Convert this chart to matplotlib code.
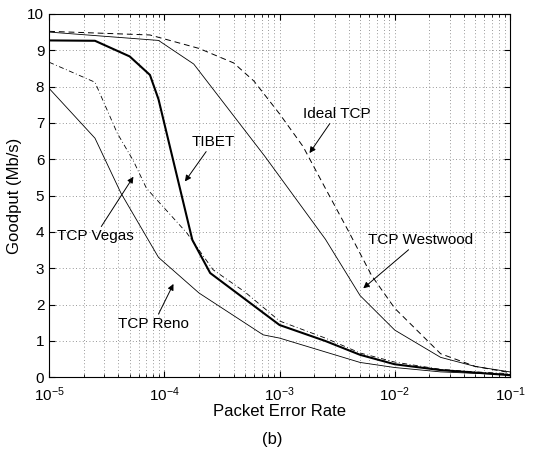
import numpy as np
import matplotlib
matplotlib.use("Agg")
import matplotlib.pyplot as plt
from matplotlib.ticker import LogLocator, NullFormatter

plt.rcParams['font.family'] = ['Liberation Sans', 'DejaVu Sans']
plt.rcParams['mathtext.default'] = 'regular'

# datos
ideal_x = [1e-5, 7.5e-5, 2e-4, 4e-4, 6e-4, 1e-3, 1.6e-3, 2.5e-3, 4e-3, 6.3e-3, 1e-2, 2.5e-2, 5e-2, 1e-1]
ideal_y = [9.52, 9.42, 9.05, 8.65, 8.15, 7.25, 6.35, 5.2, 4.0, 2.8, 1.9, 0.65, 0.3, 0.13]

westwood_x = [1e-5, 8.9e-5, 1.8e-4, 7.5e-4, 2.5e-3, 5e-3, 1e-2, 2.5e-2, 5e-2, 1e-1]
westwood_y = [9.5, 9.27, 8.62, 6.07, 3.8, 2.25, 1.3, 0.55, 0.3, 0.15]

tibet_x = [1e-5, 2.5e-5, 5e-5, 7.5e-5, 8.9e-5, 1.75e-4, 2.5e-4, 1e-3, 2.5e-3, 5e-3, 1e-2, 2.5e-2, 5e-2, 1e-1]
tibet_y = [9.27, 9.26, 8.83, 8.32, 7.65, 3.78, 2.87, 1.44, 1.0, 0.62, 0.36, 0.2, 0.13, 0.06]

vegas_x = [1e-5, 2.5e-5, 3.9e-5, 5.4e-5, 7e-5, 1.57e-4, 2.65e-4, 5e-4, 1e-3, 2.5e-3, 5e-3, 1e-2, 2.5e-2, 5e-2, 1e-1]
vegas_y = [8.67, 8.12, 6.72, 5.95, 5.2, 3.97, 2.96, 2.35, 1.55, 1.08, 0.67, 0.42, 0.22, 0.15, 0.1]

reno_x = [1e-5, 2.5e-5, 4.2e-5, 8.9e-5, 2e-4, 7.2e-4, 1e-3, 5e-3, 1e-2, 2.5e-2, 5e-2, 1e-1]
reno_y = [7.95, 6.58, 5.07, 3.3, 2.32, 1.17, 1.08, 0.41, 0.27, 0.15, 0.11, 0.08]

fig = plt.figure(figsize=(5.34, 4.63), dpi=100)
ax = fig.add_axes([0.092, 0.185, 0.863, 0.785])

ax.plot(ideal_x, ideal_y, color='black', lw=0.7, dashes=(6, 4))
ax.plot(westwood_x, westwood_y, color='black', lw=0.6)
ax.plot(tibet_x, tibet_y, color='black', lw=1.5)
ax.plot(vegas_x, vegas_y, color='black', lw=0.6, dashes=(6, 3, 1, 3))
ax.plot(reno_x, reno_y, color='black', lw=0.6)

ax.set_xscale('log')
ax.set_xlim(1e-5, 1e-1)
ax.set_ylim(0, 10)
ax.set_yticks(range(0, 11))
ax.xaxis.set_minor_locator(LogLocator(base=10, subs=np.arange(2, 10)))
ax.xaxis.set_minor_formatter(NullFormatter())

ax.grid(True, which='major', color='#777777', linestyle=(0, (1, 3)), lw=0.6)
ax.grid(True, which='minor', axis='x', color='#777777', linestyle=(0, (1, 3)), lw=0.6)
ax.tick_params(which='both', direction='in', top=True, right=True, labelsize=11)
ax.tick_params(which='major', length=4)
ax.tick_params(which='minor', length=2)
ax.tick_params(axis='x', which='major', pad=6)
for s in ax.spines.values():
    s.set_linewidth(0.8)

ax.set_xlabel('Packet Error Rate', fontsize=12, labelpad=0)
ax.set_ylabel('Goodput (Mb/s)', fontsize=12, labelpad=4)

arrow = dict(arrowstyle='-|>', color='black', lw=0.7, mutation_scale=9, shrinkA=0, shrinkB=0)
ax.annotate('TIBET', xy=(1.51e-4, 5.39), xytext=(2.65e-4, 6.48), fontsize=11,
            ha='center', va='center', arrowprops=arrow)
ax.annotate('Ideal TCP', xy=(1.82e-3, 6.17), xytext=(3.12e-3, 7.25), fontsize=11,
            ha='center', va='center', arrowprops=arrow)
ax.annotate('TCP Westwood', xy=(5.33e-3, 2.45), xytext=(1.66e-2, 3.78), fontsize=11,
            ha='center', va='center', arrowprops=arrow)
ax.annotate('TCP Vegas', xy=(5.39e-5, 5.52), xytext=(2.5e-5, 3.88), fontsize=11,
            ha='center', va='center', arrowprops=arrow)
ax.annotate('TCP Reno', xy=(1.2e-4, 2.57), xytext=(8.07e-5, 1.47), fontsize=11,
            ha='center', va='center', arrowprops=arrow)

fig.text(0.509, 0.05, '(b)', fontsize=12, ha='center', va='center')

fig.savefig('out.png', dpi=100)
